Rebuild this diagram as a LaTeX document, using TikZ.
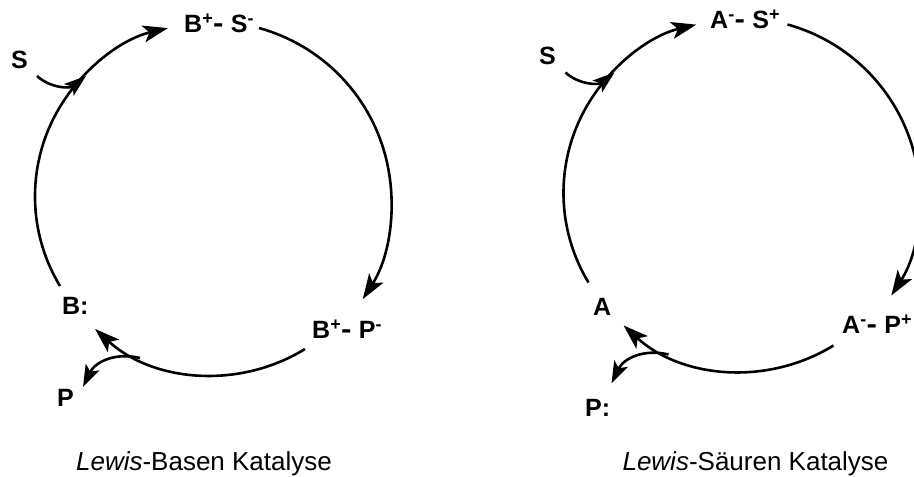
\documentclass[tikz,border=0pt]{standalone}
\usepackage{fontspec}
\setmainfont{Liberation Sans}
\usetikzlibrary{arrows.meta}
\newcommand{\spr}[1]{\raisebox{7.5pt}{\fontsize{18}{18}\selectfont #1}}
\newcommand{\bnd}{\kern0.3pt\scalebox{1.25}[1.1]{-}\kern7.5pt}
\tikzset{
  x=1pt,y=-1pt,
  lab/.style={inner sep=0pt,anchor=base west,font=\fontsize{25}{25}\selectfont\bfseries},
  captext/.style={inner sep=0pt,anchor=base,font=\fontsize{26}{26}\selectfont},
  rxn/.style={line width=2.6pt,-{Stealth[length=25pt,width=17pt,inset=6pt]}},
  rxs/.style={line width=2.6pt,-{Stealth[length=22pt,width=15pt,inset=5pt]}}
}
\begin{document}
\begin{tikzpicture}
\useasboundingbox (0,0) rectangle (914,477);
% left cycle
\node[lab] (bs) at (184,32) {B\spr{+}\bnd S\spr{-}};
\node[lab] (s1) at (11,68) {S};
\node[lab] (b) at (62,314) {B:};
\node[lab] (bp) at (312,338) {B\spr{+}\bnd P\spr{-}};
\node[lab] (p1) at (57,406) {P};
\node[captext] (c1) at (204,470) {\textit{Lewis}-Basen Katalyse};
\coordinate (la) at (60,286);
\coordinate (lb) at (259,28);
\coordinate (lc) at (305,349);
\coordinate (ls) at (37,76);
\coordinate (lst) at (86,76);
\coordinate (lpa) at (140,358);
\coordinate (lpt) at (83,387);
\draw[rxn] (la) arc[start angle=148.8,end angle=256.6,radius=173];
\draw[rxn] (lb) arc[start angle=-74.6,end angle=32.7,radius=180.2];
\draw[rxn] (lc) arc[start angle=58.4,end angle=132.5,radius=175];
\draw[rxs] (ls) .. controls (50,88) and (70,89) .. (lst);
\draw[rxs] (lpa) .. controls (115,352) and (95,362) .. (lpt);
% right cycle
\node[lab] (as) at (710,28) {A\spr{-}\bnd S\spr{+}};
\node[lab] (s2) at (539,64) {S};
\node[lab] (a) at (593,315) {A};
\node[lab] (ap) at (842,333) {A\spr{-}\bnd P\spr{+}};
\node[lab] (p2) at (585,416) {P:};
\node[captext] (c2) at (755.5,470) {\textit{Lewis}-Säuren Katalyse};
\coordinate (ra) at (588.5,282.5);
\coordinate (rb) at (787.5,24.5);
\coordinate (rc) at (833.5,345.5);
\coordinate (rs) at (565.5,72.5);
\coordinate (rst) at (614.5,72.5);
\coordinate (rpa) at (668.5,354.5);
\coordinate (rpt) at (611.5,383.5);
\draw[rxn] (ra) arc[start angle=148.8,end angle=256.6,radius=173];
\draw[rxn] (rb) arc[start angle=-74.6,end angle=32.7,radius=180.2];
\draw[rxn] (rc) arc[start angle=58.4,end angle=132.5,radius=175];
\draw[rxs] (rs) .. controls (578.5,84.5) and (598.5,85.5) .. (rst);
\draw[rxs] (rpa) .. controls (643.5,348.5) and (623.5,358.5) .. (rpt);
\end{tikzpicture}
\end{document}
